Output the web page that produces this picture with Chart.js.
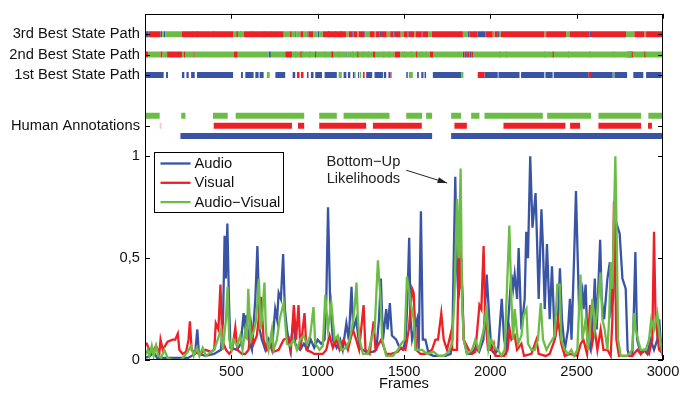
<!DOCTYPE html>
<html><head><meta charset="utf-8">
<script src="https://cdn.jsdelivr.net/npm/chart.js@4"></script>
<style>html,body{margin:0;padding:0;background:#fff}</style>
</head><body>
<canvas id="c" width="692" height="394"></canvas>
<script>
// ---------- line series (frame, likelihood) ----------
const audioX=[0,30,50,70,150,250,290,303,312,350,400,440,452,461,468,477,486,495,533,555,571,580,587,600,619,639,651,664,677,697,716,735,754,765,774,787,800,810,822,841,862,870,899,920,940,960,980,1000,1020,1040,1050,1060,1072,1088,1110,1130,1145,1166,1180,1196,1206,1223,1243,1280,1320,1340,1355,1366,1378,1397,1405,1418,1430,1455,1474,1494,1510,1520,1530,1538,1547,1560,1576,1585,1598,1609,1624,1643,1670,1700,1740,1770,1780,1788,1797,1805,1815,1825,1832,1846,1865,1890,1913,1935,1960,1979,1994,2006,2025,2045,2066,2080,2093,2112,2122,2132,2141,2155,2164,2180,2199,2208,2218,2231,2244,2262,2270,2280,2296,2305,2315,2328,2344,2357,2373,2392,2403,2415,2431,2450,2461,2470,2485,2496,2506,2514,2533,2540,2552,2562,2581,2595,2605,2616,2636,2645,2659,2678,2692,2700,2711,2720,2731,2749,2765,2784,2795,2803,2822,2830,2840,2850,2871,2890,2909,2929,2948,2967,2978,2990,3000];
const audioY=[0.01,0.02,0.04,0.01,0.01,0.01,0.03,0.15,0.03,0.02,0.03,0.05,0.2,0.61,0.4,0.67,0.3,0.06,0.05,0.08,0.23,0.15,0.22,0.1,0.05,0.3,0.56,0.15,0.1,0.05,0.1,0.05,0.25,0.2,0.33,0.3,0.52,0.25,0.15,0.05,0.21,0.08,0.05,0.08,0.05,0.1,0.06,0.1,0.08,0.1,0.3,0.75,0.3,0.1,0.06,0.1,0.05,0.18,0.1,0.36,0.15,0.2,0.06,0.04,0.04,0.05,0.2,0.4,0.1,0.25,0.15,0.28,0.12,0.1,0.06,0.05,0.1,0.3,0.6,0.2,0.1,0.15,0.2,0.05,0.73,0.1,0.1,0.03,0.02,0.02,0.02,0.03,0.1,0.5,0.9,0.5,0.3,0.4,0.5,0.1,0.03,0.03,0.06,0.04,0.1,0.42,0.2,0.05,0.03,0.05,0.3,0.1,0.05,0.3,0.42,0.35,0.42,0.3,0.55,0.15,0.3,0.63,0.5,1.0,0.65,0.82,0.6,0.3,0.74,0.55,0.25,0.57,0.2,0.46,0.1,0.2,0.45,0.2,0.05,0.15,0.3,0.1,0.5,0.83,0.5,0.25,0.34,0.25,0.37,0.1,0.05,0.2,0.4,0.15,0.59,0.3,0.2,0.4,0.48,0.25,0.3,0.55,0.67,0.62,0.4,0.35,0.05,0.02,0.02,0.2,0.53,0.1,0.03,0.05,0.03,0.1,0.05,0.1,0.2,0.05,0.02];

const visualX=[0,10,25,45,64,83,90,103,131,160,175,190,199,218,238,252,260,270,286,320,350,382,401,410,425,437,447,469,488,505,523,535,562,581,600,614,629,648,672,687,706,725,745,774,803,832,845,862,875,889,900,924,935,960,980,1000,1030,1050,1069,1088,1108,1127,1150,1175,1204,1223,1240,1266,1277,1301,1324,1335,1368,1397,1426,1464,1484,1508,1528,1547,1556,1570,1595,1624,1662,1682,1697,1716,1730,1749,1774,1780,1807,1820,1826,1832,1846,1875,1894,1913,1937,1948,1961,1971,1987,2006,2020,2030,2080,2100,2112,2122,2141,2155,2180,2195,2238,2267,2280,2320,2344,2373,2392,2411,2431,2460,2504,2524,2539,2560,2578,2590,2605,2620,2639,2655,2678,2697,2707,2716,2730,2745,2800,2822,2851,2871,2900,2919,2938,2948,2957,2977,3000];
const visualY=[0.08,0.08,0.05,0.04,0.07,0.03,0.1,0.05,0.09,0.1,0.1,0.13,0.05,0.03,0.04,0.1,0.19,0.05,0.04,0.03,0.05,0.04,0.05,0.18,0.15,0.37,0.1,0.05,0.03,0.05,0.16,0.05,0.03,0.03,0.05,0.18,0.08,0.12,0.31,0.1,0.05,0.08,0.04,0.05,0.1,0.11,0.05,0.27,0.1,0.27,0.05,0.23,0.05,0.04,0.03,0.03,0.03,0.05,0.12,0.06,0.1,0.05,0.1,0.05,0.15,0.1,0.05,0.27,0.05,0.03,0.19,0.05,0.1,0.03,0.03,0.04,0.06,0.05,0.15,0.35,0.33,0.05,0.03,0.03,0.05,0.1,0.1,0.23,0.1,0.05,0.14,0.05,0.05,0.6,0.35,0.45,0.1,0.05,0.03,0.04,0.27,0.25,0.56,0.2,0.05,0.05,0.08,0.02,0.02,0.05,0.15,0.1,0.12,0.05,0.08,0.02,0.03,0.1,0.03,0.02,0.03,0.1,0.2,0.08,0.02,0.03,0.02,0.08,0.1,0.03,0.27,0.08,0.15,0.05,0.15,0.05,0.05,0.02,0.2,0.78,0.1,0.02,0.02,0.02,0.05,0.03,0.05,0.03,0.1,0.63,0.2,0.05,0.03];

const avX=[0,16,25,39,50,64,77,93,112,131,160,209,228,247,267,282,301,315,334,353,382,401,421,440,450,469,478,488,502,513,533,552,565,581,590,598,612,633,644,660,668,677,692,700,706,716,735,745,764,780,803,822,841,860,880,899,918,938,957,976,986,1011,1030,1044,1060,1079,1098,1117,1137,1166,1185,1204,1214,1225,1233,1243,1262,1291,1310,1330,1349,1364,1374,1397,1436,1465,1484,1504,1517,1528,1543,1556,1566,1605,1634,1672,1701,1730,1759,1778,1792,1807,1817,1828,1836,1846,1865,1894,1913,1933,1962,1979,1990,2006,2025,2045,2064,2083,2110,2122,2132,2141,2161,2180,2193,2209,2218,2238,2257,2276,2292,2305,2325,2344,2373,2388,2402,2411,2431,2450,2469,2485,2504,2522,2533,2552,2566,2581,2591,2605,2620,2638,2649,2662,2678,2688,2697,2707,2716,2724,2732,2740,2755,2794,2822,2832,2842,2855,2871,2900,2919,2932,2948,2967,2983,3000];
const avY=[0.02,0.05,0.02,0.07,0.02,0.07,0.02,0.01,0.05,0.01,0.0,0.0,0.02,0.04,0.07,0.02,0.06,0.02,0.06,0.02,0.04,0.05,0.1,0.15,0.05,0.2,0.36,0.1,0.05,0.1,0.07,0.12,0.05,0.15,0.1,0.35,0.1,0.15,0.2,0.4,0.15,0.2,0.38,0.15,0.1,0.05,0.15,0.05,0.1,0.2,0.28,0.08,0.07,0.1,0.05,0.1,0.12,0.08,0.12,0.26,0.08,0.05,0.07,0.32,0.15,0.28,0.1,0.12,0.05,0.06,0.1,0.18,0.26,0.38,0.2,0.1,0.03,0.03,0.1,0.15,0.49,0.3,0.1,0.02,0.02,0.05,0.08,0.1,0.41,0.35,0.26,0.2,0.05,0.05,0.03,0.04,0.02,0.02,0.04,0.08,0.3,0.79,0.5,0.94,0.3,0.1,0.03,0.05,0.1,0.05,0.15,0.27,0.05,0.1,0.06,0.05,0.02,0.05,0.66,0.3,0.1,0.25,0.08,0.12,0.22,0.25,0.08,0.05,0.05,0.1,0.28,0.1,0.05,0.08,0.12,0.37,0.37,0.1,0.05,0.03,0.05,0.02,0.05,0.42,0.1,0.2,0.05,0.2,0.3,0.15,0.25,0.43,0.2,0.15,0.05,0.2,0.48,0.35,0.7,1.0,0.6,0.1,0.02,0.02,0.05,0.23,0.15,0.1,0.05,0.05,0.1,0.2,0.15,0.23,0.1,0.02];

// ---------- state paths / annotations: [startFrame, endFrame, colour] ----------
const path3=[[0,21,'b'],[21,89,'r'],[89,100,'b'],[100,110,'g'],[110,118,'b'],[118,214,'g'],[214,513,'r'],[270,277,'g'],[300,307,'b'],[395,402,'g'],[513,571,'g'],[530,537,'r'],[550,557,'b'],[571,803,'r'],[618,625,'g'],[686,693,'g'],[725,732,'g'],[803,840,'g'],[840,850,'r'],[850,870,'g'],[870,877,'b'],[877,900,'g'],[900,915,'r'],[915,940,'g'],[940,947,'b'],[947,975,'r'],[975,1000,'g'],[1000,1010,'b'],[1010,1030,'g'],[1030,1166,'r'],[1060,1067,'b'],[1100,1107,'g'],[1130,1137,'b'],[1166,1180,'g'],[1180,1200,'r'],[1200,1207,'b'],[1207,1230,'r'],[1230,1237,'g'],[1237,1270,'r'],[1270,1277,'b'],[1277,1300,'g'],[1300,1330,'r'],[1330,1337,'g'],[1337,1360,'r'],[1360,1367,'b'],[1367,1400,'r'],[1400,1420,'g'],[1420,1440,'r'],[1440,1447,'b'],[1447,1480,'r'],[1480,1500,'g'],[1500,1520,'r'],[1520,1527,'b'],[1527,1560,'r'],[1560,1567,'g'],[1567,1600,'r'],[1600,1607,'b'],[1607,1640,'r'],[1640,1660,'g'],[1660,1841,'r'],[1841,1870,'g'],[1870,1880,'b'],[1880,1927,'r'],[1927,1972,'b'],[1972,2014,'r'],[2014,2025,'g'],[2025,2040,'r'],[2040,2050,'b'],[2050,2060,'g'],[2060,2313,'r'],[2313,2323,'g'],[2323,2439,'r'],[2439,2458,'g'],[2458,2574,'r'],[2574,2583,'b'],[2583,2786,'r'],[2786,2834,'g'],[2834,2892,'r'],[2892,2902,'g'],[2902,3000,'r']];
const path2=[[0,18,'r'],[18,90,'g'],[90,100,'r'],[100,128,'g'],[128,214,'r'],[214,225,'g'],[225,232,'r'],[232,280,'g'],[280,287,'r'],[287,513,'g'],[513,537,'r'],[537,716,'g'],[716,729,'b'],[729,812,'g'],[812,851,'r'],[825,831,'g'],[840,846,'b'],[851,1166,'g'],[870,876,'b'],[900,906,'r'],[910,916,'b'],[950,956,'b'],[985,991,'r'],[1040,1046,'b'],[1080,1090,'r'],[1120,1126,'b'],[1166,1172,'b'],[1172,1320,'g'],[1200,1206,'b'],[1230,1236,'r'],[1260,1266,'b'],[1290,1296,'b'],[1320,1335,'r'],[1335,1445,'g'],[1380,1386,'b'],[1410,1416,'b'],[1445,1478,'r'],[1478,1648,'g'],[1500,1506,'b'],[1540,1546,'b'],[1570,1576,'r'],[1600,1606,'b'],[1625,1631,'b'],[1648,1671,'r'],[1671,1841,'g'],[1841,1850,'b'],[1850,1860,'r'],[1860,1870,'b'],[1870,1880,'r'],[1880,1890,'b'],[1890,1900,'r'],[1900,3000,'g'],[2053,2059,'b'],[2091,2097,'b'],[2313,2319,'b'],[2361,2367,'r'],[2450,2456,'b'],[2574,2580,'b'],[2709,2715,'b'],[2792,2819,'b'],[2819,2825,'r'],[2892,2898,'r']];
const path1=[[6,108,'b'],[122,133,'b'],[214,228,'b'],[240,253,'b'],[267,288,'b'],[301,510,'b'],[556,567,'b'],[581,629,'b'],[639,658,'b'],[664,687,'b'],[706,722,'g'],[755,812,'b'],[855,870,'b'],[880,895,'r'],[903,918,'r'],[938,947,'b'],[961,976,'b'],[986,1025,'b'],[1040,1111,'b'],[1121,1140,'g'],[1150,1166,'b'],[1175,1189,'b'],[1204,1214,'b'],[1214,1220,'g'],[1233,1239,'b'],[1243,1252,'g'],[1262,1272,'r'],[1281,1316,'b'],[1329,1378,'b'],[1383,1397,'b'],[1410,1422,'b'],[1422,1428,'r'],[1513,1522,'b'],[1528,1551,'g'],[1576,1586,'b'],[1600,1613,'b'],[1619,1628,'b'],[1667,1831,'b'],[1831,1844,'g'],[1927,1966,'r'],[1966,2043,'b'],[2047,2169,'b'],[2178,2313,'b'],[2319,2361,'b'],[2367,2570,'b'],[2570,2583,'r'],[2583,2709,'b'],[2709,2718,'g'],[2718,2792,'b'],[2828,2886,'b'],[2902,2992,'b']];
const humanGreen=[[2,85,'g'],[210,234,'g'],[394,479,'g'],[525,922,'g'],[1009,1111,'g'],[1150,1416,'g'],[1513,1605,'g'],[1628,1663,'g'],[1773,1831,'g'],[1889,1937,'g'],[1966,2304,'g'],[2329,2583,'g'],[2626,2873,'g'],[2915,2996,'g']];
const humanRed=[[85,95,'p'],[398,851,'r'],[886,922,'r'],[1009,1281,'r'],[1320,1603,'r'],[1792,1864,'r'],[2076,2435,'r'],[2462,2520,'r'],[2626,2873,'r'],[2913,2936,'r']];
const humanBlue=[[205,1663,'b'],[1773,3000,'b']];

// ---------- axes ----------
const xTicks=[500,1000,1500,2000,2500,3000];
const yTickValues=[0,0.5,1,1.15,1.4,1.5,1.6];
const yTickLabels=['0','0,5','1','Human Annotations','1st Best State Path','2nd Best State Path','3rd Best State Path'];
const rowY={path3:1.6,path2:1.5,path1:1.4,humanGreen:1.2,humanRed:1.15,humanBlue:1.1};
const seriesNames=['Audio','Visual','Audio\u2212Visual'];

const COL={b:'#3a54a5',r:'#ee2027',g:'#6bbd46',p:'#f7c3c7'};
const FONT="'Liberation Sans', Arial, Helvetica, sans-serif";
const FS=14.7;

function pts(xs,ys){return xs.map((x,i)=>({x:x,y:ys[i]}));}
const datasets=[
 {label:seriesNames[0],data:pts(audioX,audioY),borderColor:COL.b,order:3},
 {label:seriesNames[1],data:pts(visualX,visualY),borderColor:COL.r,order:2},
 {label:seriesNames[2],data:pts(avX,avY),borderColor:COL.g,order:1}
].map(d=>Object.assign(d,{borderWidth:2.3,pointRadius:0,tension:0,fill:false}));

const rows={path3,path2,path1,humanGreen,humanRed,humanBlue};
Object.keys(rows).forEach(name=>{
  const y=rowY[name];
  ['b','r','g','p'].forEach(c=>{
    const segs=rows[name].filter(s=>s[2]===c);
    if(!segs.length) return;
    const data=[];
    segs.forEach(s=>{data.push({x:s[0],y:y},{x:s[1],y:y},{x:s[1],y:null});});
    datasets.push({label:'_'+name+c,data:data,borderColor:COL[c],borderWidth:6,borderCapStyle:'butt',
      pointRadius:0,spanGaps:false,tension:0,order:(c==='b'||c==='p')?10:9});
  });
});

const framePlugin={
  id:'frame',
  afterDraw(chart){
    const ctx=chart.ctx, a=chart.chartArea, xs=chart.scales.x, ys=chart.scales.y;
    ctx.save();
    ctx.strokeStyle='#000'; ctx.lineWidth=1;
    ctx.strokeRect(Math.round(a.left)+0.5,Math.round(a.top)+0.5,Math.round(a.right-a.left)-1,Math.round(a.bottom-a.top)-1);
    const L=5;
    ctx.beginPath();
    xTicks.forEach(v=>{const px=Math.round(xs.getPixelForValue(v))+0.5;
      ctx.moveTo(px,a.bottom);ctx.lineTo(px,a.bottom-L);ctx.moveTo(px,a.top);ctx.lineTo(px,a.top+L);});
    yTickValues.forEach(v=>{const py=Math.round(ys.getPixelForValue(v))+0.5;
      ctx.moveTo(a.left,py);ctx.lineTo(a.left+L,py);ctx.moveTo(a.right,py);ctx.lineTo(a.right-L,py);});
    ctx.stroke();
    // legend
    const lx=154.5, ly=152.5, lw=129, lh=60;
    ctx.fillStyle='#fff'; ctx.fillRect(lx,ly,lw,lh); ctx.strokeRect(lx,ly,lw,lh);
    ctx.font=FS+'px '+FONT; ctx.textBaseline='middle'; ctx.textAlign='left';
    [0,1,2].forEach(i=>{
      const d=chart.data.datasets[i], yy=ly+11+i*19.3;
      ctx.strokeStyle=d.borderColor; ctx.lineWidth=2.3;
      ctx.beginPath(); ctx.moveTo(lx+6,yy); ctx.lineTo(lx+36,yy); ctx.stroke();
      ctx.fillStyle='#111'; ctx.fillText(d.label,lx+40,yy+0.5);
    });
    // annotation
    ctx.fillStyle='#222'; ctx.textAlign='center';
    const tx=xs.getPixelForValue(1265);
    ctx.fillText('Bottom\u2212Up',tx,ys.getPixelForValue(0.971));
    ctx.fillText('Likelihoods',tx,ys.getPixelForValue(0.888));
    const x1=xs.getPixelForValue(1513),y1=ys.getPixelForValue(0.932),x2=xs.getPixelForValue(1750),y2=ys.getPixelForValue(0.869);
    ctx.strokeStyle='#222'; ctx.lineWidth=1;
    ctx.beginPath(); ctx.moveTo(x1,y1); ctx.lineTo(x2,y2); ctx.stroke();
    const ang=Math.atan2(y2-y1,x2-x1), h=10, w=0.3;
    ctx.beginPath(); ctx.moveTo(x2,y2);
    ctx.lineTo(x2-h*Math.cos(ang-w),y2-h*Math.sin(ang-w));
    ctx.lineTo(x2-h*Math.cos(ang+w),y2-h*Math.sin(ang+w)); ctx.closePath(); ctx.fill();
    ctx.restore();
  }
};

new Chart(document.getElementById('c'),{
  type:'line',
  data:{datasets:datasets},
  plugins:[framePlugin],
  options:{
    responsive:false, animation:false, events:[],
    layout:{padding:{left:0,right:29,top:10,bottom:0}},
    plugins:{legend:{display:false},tooltip:{enabled:false}},
    scales:{
      x:{type:'linear',min:0,max:3000,
        afterBuildTicks(s){s.ticks=xTicks.map(v=>({value:v}));},
        afterFit(s){s.height=34;},
        grid:{display:false,drawTicks:false},border:{display:false},
        ticks:{padding:3,color:'#111',font:{family:FONT,size:FS},maxRotation:0,autoSkip:false,
          callback(v){return String(v);}},
        title:{display:true,text:'Frames',color:'#111',font:{family:FONT,size:FS},padding:{top:0,bottom:1}}},
      y:{type:'linear',min:0,max:1.7,
        afterBuildTicks(s){s.ticks=yTickValues.map(v=>({value:v}));},
        afterFit(s){s.width=145;},
        grid:{display:false,drawTicks:false},border:{display:false},
        ticks:{padding:5,color:'#111',font:{family:FONT,size:FS},autoSkip:false,
          callback(v){const i=yTickValues.indexOf(v);return i>=0?yTickLabels[i]:'';}}}
    }
  }
});
</script>
</body></html>
